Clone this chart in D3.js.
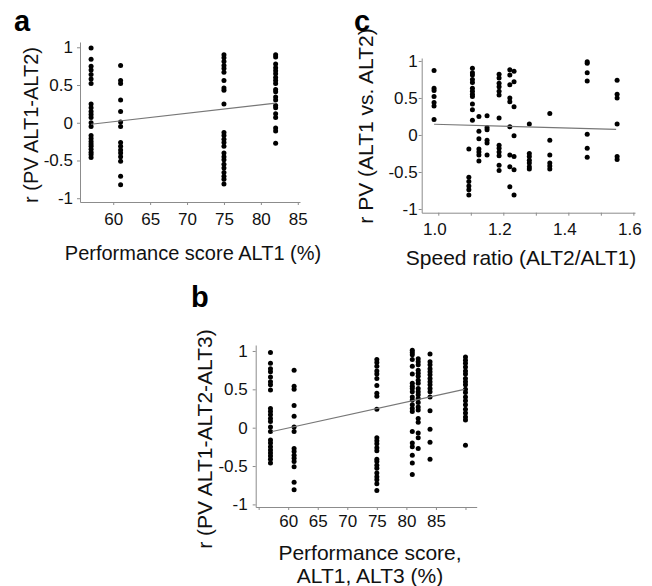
<!DOCTYPE html>
<html>
<head>
<meta charset="utf-8">
<script src="https://cdn.jsdelivr.net/npm/d3@7"></script>
<style>
  body { margin: 0; background: #fff; }
  svg { display: block; font-family: "Liberation Sans", Arial, sans-serif; }
</style>
</head>
<body>
<svg id="chart" width="652" height="586"></svg>
<script>
// panel a: performance score ALT1 vs r(PV ALT1-ALT2)
const aScore = [57, 61, 75, 82]
const aR = [
  [0.99, 0.84, 0.75, 0.70, 0.64, 0.58, 0.52, 0.25, 0.20, 0.15, 0.11, 0.07, 0, -0.05, -0.17, -0.21, -0.25, -0.28, -0.31, -0.35, -0.39, -0.42, -0.46],
  [0.76, 0.56, 0.52, 0.30, 0.15, 0.01, -0.05, -0.26, -0.31, -0.36, -0.40, -0.45, -0.51, -0.71, -0.82],
  [0.90, 0.86, 0.81, 0.76, 0.72, 0.67, 0.56, 0.46, 0.43, 0.25, -0.13, -0.17, -0.22, -0.26, -0.31, -0.40, -0.45, -0.49, -0.55, -0.60, -0.66, -0.71, -0.75, -0.81],
  [0.90, 0.87, 0.78, 0.73, 0.69, 0.65, 0.60, 0.56, 0.52, 0.44, 0.41, 0.34, 0.30, 0.23, 0.20, 0.12, 0.07, -0.07, -0.11, -0.27]
]
const aFit = [[57, -0.02], [82, 0.26]]

// panel b: performance score ALT1, ALT3 vs r(PV ALT1-ALT2-ALT3)
const bScore = [57, 61, 75, 81, 82, 84, 90]
const bR = [
  [0.98, 0.84, 0.77, 0.73, 0.66, 0.60, 0.56, 0.49, 0.25, 0.21, 0.17, 0.12, 0.08, 0.01, -0.05, -0.16, -0.20, -0.25, -0.29, -0.33, -0.37, -0.41, -0.46],
  [0.75, 0.54, 0.50, 0.29, 0.15, 0.01, -0.05, -0.27, -0.31, -0.36, -0.40, -0.44, -0.51, -0.71, -0.81],
  [0.89, 0.85, 0.80, 0.74, 0.70, 0.64, 0.55, 0.45, 0.41, 0.24, -0.13, -0.17, -0.21, -0.26, -0.30, -0.41, -0.44, -0.49, -0.53, -0.59, -0.64, -0.68, -0.73, -0.82],
  [1.01, 0.98, 0.95, 0.89, 0.80, 0.70, 0.58, 0.54, 0.51, 0.47, 0.40, 0.36, 0.30, 0.25, 0.21, -0.05, -0.20, -0.25, -0.36, -0.46, -0.61],
  [0.90, 0.86, 0.82, 0.75, 0.71, 0.67, 0.62, 0.58, 0.51, 0.47, 0.43, 0.38, 0.33, 0.27, 0.23, 0.12, 0.07, -0.07, -0.13, -0.27],
  [0.96, 0.86, 0.82, 0.77, 0.73, 0.69, 0.64, 0.60, 0.56, 0.51, 0.47, 0.40, 0.22, -0.02, -0.19, -0.41],
  [0.92, 0.88, 0.84, 0.79, 0.74, 0.70, 0.64, 0.60, 0.56, 0.50, 0.46, 0.40, 0.35, 0.30, 0.24, 0.19, 0.14, 0.10, -0.23]
]
const bFit = [[57.3, -0.05], [89.8, 0.50]]

// panel c: speed ratio vs r PV(ALT1 vs. ALT2)
const cRatio = [0.987, 1.094, 1.105, 1.125, 1.15, 1.187, 1.22, 1.233, 1.28, 1.343, 1.458, 1.55]
const cR = [
  [0.87, 0.63, 0.60, 0.52, 0.44, 0.39, 0.21],
  [-0.19, -0.57, -0.63, -0.69, -0.74, -0.81],
  [0.90, 0.84, 0.81, 0.75, 0.71, 0.63, 0.59, 0.55, 0.52, 0.42, 0.34, 0.20],
  [0.25, 0.05, -0.05, -0.19, -0.23, -0.27, -0.35],
  [0.26, 0.10, 0.07, -0.07, -0.11, -0.27],
  [0.82, 0.77, 0.70, 0.65, 0.59, 0.54, 0.23, -0.14, -0.18, -0.23, -0.28, -0.41, -0.48],
  [0.88, 0.81, 0.68, 0.50, 0.45, 0.11, -0.27, -0.43, -0.70],
  [0.86, 0.72, 0.38, -0.01, -0.29, -0.47, -0.81],
  [0.15, -0.25, -0.29, -0.34, -0.38, -0.43, -0.46],
  [0.29, -0.07, -0.27, -0.38, -0.42, -0.46],
  [0.99, 0.97, 0.84, 0.73, 0.01, -0.18, -0.30],
  [0.74, 0.55, 0.50, 0.15, -0.29, -0.33]
]
const cFit = [[0.987, 0.145], [1.547, 0.077]]

const rTicks = [-1, -0.5, 0, 0.5, 1]
const scoreTicksA = [60, 65, 70, 75, 80, 85]
const scoreTicksB = [55, 60, 65, 70, 75, 80, 85, 90]
const scoreLabelsB = [60, 65, 70, 75, 80, 85]
const ratioTicks = [1.0, 1.1, 1.2, 1.3, 1.4, 1.5, 1.6]
const ratioLabels = [1.0, 1.2, 1.4, 1.6]

const svg = d3.select("#chart")
const axisColor = "#8c8c8c"

function drawPanel(p) {
  const x = d3.scaleLinear().domain(p.xDomain).range([p.left, p.right])
  const y = d3.scaleLinear().domain(p.yDomain).range([p.bottom, p.top])
  const g = svg.append("g")

  const xAxis = g.append("g")
    .attr("transform", `translate(0,${p.bottom})`)
    .call(d3.axisBottom(x).tickValues(p.xTicks).tickFormat(p.xFormat)
      .tickSize(3).tickSizeOuter(0).tickPadding(p.xPad))
  const yAxis = g.append("g")
    .attr("transform", `translate(${p.left},0)`)
    .call(d3.axisLeft(y).tickValues(rTicks).tickFormat(d => String(d))
      .tickSize(3).tickSizeOuter(0).tickPadding(p.yPad))

  ;[xAxis, yAxis].forEach(ax => {
    ax.select(".domain").attr("stroke", axisColor)
    ax.selectAll(".tick line").attr("stroke", axisColor)
    ax.selectAll(".tick text").attr("fill", "#111").attr("font-size", 17)
      .attr("font-family", "Liberation Sans, Arial, sans-serif")
  })
  if (p.xLabelDx) xAxis.selectAll(".tick text").attr("dx", p.xLabelDx)

  // points
  p.xs.forEach((xv, i) => {
    g.selectAll(null)
      .data(p.ys[i])
      .enter()
      .append("circle")
      .attr("cx", x(xv))
      .attr("cy", d => y(d))
      .attr("r", 2.5)
      .attr("fill", "#000")
  })

  // fitted line
  g.append("path")
    .datum(p.fit)
    .attr("fill", "none")
    .attr("stroke", "#777")
    .attr("stroke-width", 1.2)
    .attr("d", d3.line().x(d => x(d[0])).y(d => y(d[1])))

  // axis titles
  p.xTitle.forEach((t, i) => {
    g.append("text")
      .attr("x", p.xTitleX)
      .attr("y", p.xTitleY + i * 23)
      .attr("text-anchor", "middle")
      .attr("font-size", p.titleSize)
      .attr("fill", "#111")
      .text(t)
  })
  g.append("text")
    .attr("transform", `translate(${p.yTitleX},${p.yTitleY}) rotate(-90)`)
    .attr("text-anchor", "middle")
    .attr("dy", "0.35em")
    .attr("font-size", p.titleSize)
    .attr("fill", "#111")
    .text(p.yTitle)

  g.append("text")
    .attr("x", p.letterX)
    .attr("y", p.letterY)
    .attr("font-size", 29)
    .attr("font-weight", "bold")
    .attr("font-family", "Liberation Sans, Arial, sans-serif")
    .text(p.letter)
}

drawPanel({
  letter: "a", letterX: 14, letterY: 31,
  xs: aScore, ys: aR, fit: aFit,
  xDomain: [55.5, 85.3], yDomain: [-1.05, 1.07],
  left: 80, right: 300, top: 42, bottom: 202,
  xTicks: scoreTicksA, xFormat: d => String(d), xPad: 8, yPad: 4,
  xTitle: ["Performance score ALT1 (%)"], xTitleX: 193, xTitleY: 260,
  yTitle: "r (PV ALT1-ALT2)", yTitleX: 31, yTitleY: 125, titleSize: 20
})

drawPanel({
  letter: "c", letterX: 354, letterY: 31,
  xs: cRatio, ys: cR, fit: cFit,
  xDomain: [0.949, 1.605], yDomain: [-1.05, 1.04],
  left: 421.7, right: 635, top: 58, bottom: 212.7,
  xTicks: ratioTicks, xFormat: d => ratioLabels.some(v => Math.abs(v - d) < 1e-9) ? d3.format(".1f")(d) : "",
  xPad: 7, yPad: 1, xLabelDx: -4,
  xTitle: ["Speed ratio (ALT2/ALT1)"], xTitleX: 521, xTitleY: 265,
  yTitle: "r PV (ALT1 vs. ALT2)", yTitleX: 366, yTitleY: 126, titleSize: 21
})

drawPanel({
  letter: "b", letterX: 191, letterY: 307,
  xs: bScore, ys: bR, fit: bFit,
  xDomain: [54.5, 91.9], yDomain: [-1.034, 1.078],
  left: 255.7, right: 476.7, top: 345, bottom: 507,
  xTicks: scoreTicksB, xFormat: d => scoreLabelsB.includes(d) ? String(d) : "",
  xPad: 5, yPad: 5,
  xTitle: ["Performance score,", "ALT1, ALT3 (%)"], xTitleX: 370, xTitleY: 560,
  yTitle: "r (PV ALT1-ALT2-ALT3)", yTitleX: 205, yTitleY: 439, titleSize: 21
})
</script>
</body>
</html>
